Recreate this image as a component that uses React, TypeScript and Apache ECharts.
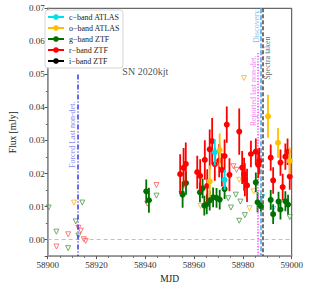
import React, { useEffect, useRef } from "react";
import * as echarts from "echarts";

// ---- data: [MJD, flux (mJy), error] ----
const cBandDet = [
  [58968.5, 0.0264, 0.004],
  [58972.5, 0.0181, 0.003],
];
const oBandDet = [
  [58966.4, 0.0176, 0.0048],
  [58970.5, 0.0271, 0.005],
  [58990.3, 0.0373, 0.0065],
  [58994.4, 0.0293, 0.0045],
  [58999.2, 0.0238, 0.004],
];
const gBandDet = [
  [58940.4, 0.0146, 0.0036],
  [58941.5, 0.0119, 0.0038],
  [58955.3, 0.0136, 0.004],
  [58956.7, 0.0171, 0.0035],
  [58962.4, 0.0143, 0.003],
  [58963.5, 0.0155, 0.003],
  [58964.2, 0.0103, 0.003],
  [58965.2, 0.0107, 0.003],
  [58966.4, 0.0118, 0.003],
  [58967.8, 0.0128, 0.003],
  [58969.2, 0.0126, 0.003],
  [58970.5, 0.0121, 0.003],
  [58972.5, 0.0153, 0.003],
  [58985.3, 0.0173, 0.003],
  [58986.0, 0.0113, 0.003],
  [58987.4, 0.0101, 0.003],
  [58991.4, 0.012, 0.003],
  [58992.4, 0.0077, 0.003],
  [58994.6, 0.0115, 0.003],
  [58995.4, 0.0091, 0.003],
  [58997.4, 0.0116, 0.003],
  [58998.5, 0.0106, 0.003],
];
const rBandDet = [
  [58954.3, 0.0198, 0.006],
  [58955.7, 0.0217, 0.006],
  [58956.6, 0.0229, 0.0065],
  [58961.3, 0.0204, 0.005],
  [58962.5, 0.0193, 0.005],
  [58964.4, 0.0241, 0.006],
  [58965.4, 0.0163, 0.005],
  [58966.4, 0.0273, 0.006],
  [58967.4, 0.0298, 0.007],
  [58968.5, 0.0228, 0.005],
  [58970.3, 0.0239, 0.005],
  [58971.4, 0.0211, 0.005],
  [58972.5, 0.0253, 0.005],
  [58973.4, 0.0348, 0.0055],
  [58974.5, 0.0196, 0.005],
  [58978.5, 0.0327, 0.007],
  [58979.7, 0.0218, 0.005],
  [58980.5, 0.0198, 0.005],
  [58980.8, 0.0181, 0.005],
  [58981.7, 0.0164, 0.005],
  [58983.3, 0.0259, 0.004],
  [58985.3, 0.0266, 0.004],
  [58986.3, 0.0226, 0.004],
  [58986.7, 0.0238, 0.004],
  [58991.4, 0.0248, 0.004],
  [58992.4, 0.0179, 0.004],
  [58995.4, 0.0233, 0.004],
  [58996.3, 0.0159, 0.004],
  [58997.4, 0.0251, 0.004],
  [58998.3, 0.0266, 0.004],
  [58999.2, 0.0191, 0.004],
];

// ---- upper limits: [MJD, flux] ----
const cBandLim = [
  [58988.0, 0.0129],
  [58992.4, 0.0093],
];
const oBandLim = [
  [58910.8, 0.0112],
  [58962.7, 0.0102],
  [58978.5, 0.0181],
  [58982.7, 0.0095],
  [58984.4, 0.0146],
  [58980.4, 0.0489],
];
const gBandLim = [
  [58900.4, 0.0097],
  [58903.6, 0.0024],
  [58908.4, -0.0026],
  [58911.5, 0.0055],
  [58912.6, 0.0012],
  [58914.2, 0.0112],
  [58944.6, 0.0133],
  [58974.0, 0.0125],
  [58975.1, 0.0097],
  [58977.1, 0.0136],
  [58979.0, 0.0115],
  [58978.5, 0.0057],
  [58980.8, 0.0074],
  [58999.2, 0.0068],
];
const rBandLim = [
  [58903.6, -0.0021],
  [58908.4, 0.0016],
  [58912.6, 0.0036],
  [58913.6, 0.0027],
  [58914.8, 0.0001],
  [58915.6, -0.0004],
  [58940.8, 0.0109],
  [58944.6, 0.0165],
  [58976.1, 0.0222],
  [58977.4, 0.0211],
];
const iBandLim = [[58954.9, 0.0138]];

// ---- vertical event lines ----
const forcedLastNonDet = 58912.4;
const reportedLastNonDet = 58986.1;
const discovery = 58987.2;
const spectraTaken = 58988.2;

const legendNames = ["c−band ATLAS", "o−band ATLAS", "g−band ZTF", "r−band ZTF", "i−band ZTF"];
const xTicks = [58900, 58920, 58940, 58960, 58980, 59000];

const SERIF = "'Liberation Serif', 'DejaVu Serif', serif";

const COL = {
  c: "#00e0e8",
  o: "#ffbf00",
  g: "#007000",
  r: "#ff0000",
  i: "#000000",
};
const LIMCOL = {
  c: "#40c8d8",
  o: "#ffb020",
  g: "#4a9a4a",
  r: "#ff5a5a",
  i: "#303030",
};

function errSeries(data: number[][], color: string, z: number) {
  return {
    type: "custom",
    silent: true,
    clip: true,
    z,
    encode: { x: 0, y: 1 },
    data,
    renderItem: (params: any, api: any) => {
      const x = api.value(0);
      const y = api.value(1);
      const e = api.value(2);
      const a = api.coord([x, y - e]);
      const b = api.coord([x, y + e]);
      return {
        type: "line",
        shape: { x1: a[0], y1: a[1], x2: b[0], y2: b[1] },
        style: { stroke: color, lineWidth: 1.8 },
      };
    },
  };
}

function detSeries(data: number[][], color: string, z: number) {
  return {
    type: "scatter",
    silent: true,
    z,
    data: data.map((d) => [d[0], d[1]]),
    symbol: "circle",
    symbolSize: 6,
    itemStyle: { color, opacity: 1 },
  };
}

function limSeries(data: number[][], color: string, z: number) {
  return {
    type: "scatter",
    silent: true,
    z,
    data,
    symbol: "triangle",
    symbolRotate: 180,
    symbolSize: 5,
    itemStyle: { color: "rgba(255,255,255,0)", borderColor: color, borderWidth: 1 },
  };
}

export default function App() {
  const ref = useRef<HTMLDivElement>(null);
  useEffect(() => {
    if (!ref.current) return;
    const chart = echarts.init(ref.current, undefined, { renderer: "svg" });
    const annotations = [
      { name: "Forced Last non-det.", value: [58910.0, 0.0317], color: "#6464f0", rotate: 90, size: 8 },
      { name: "Reported last non-det.", value: [58984.4, 0.045], color: "#f060f0", rotate: 90, size: 8 },
      { name: "Discovery", value: [58985.4, 0.0645], color: "#55a8ee", rotate: 90, size: 8 },
      { name: "Spectra taken", value: [58990.1, 0.0549], color: "#404040", rotate: 90, size: 8 },
      { name: "SN 2020kjt", value: [58940.0, 0.0509], color: "#222", rotate: 0, size: 10 },
    ];
    const legendSeries = legendNames.map((n, i) => ({
      type: "line",
      name: n,
      data: [],
      symbol: "circle",
      symbolSize: 6,
      color: [COL.c, COL.o, COL.g, COL.r, COL.i][i],
      lineStyle: { width: 2 },
    }));
    const option: any = {
      animation: false,
      grid: {
        left: 41.7,
        right: 17.3,
        top: 8.3,
        bottom: 32.3,
        show: true,
        borderColor: "#444",
        borderWidth: 1,
        backgroundColor: "transparent",
      },
      legend: {
        data: legendNames,
        orient: "vertical",
        left: 45,
        top: 10,
        itemGap: 3,
        itemWidth: 16,
        itemHeight: 7,
        padding: [3, 3, 3, 2],
        backgroundColor: "#fff",
        borderColor: "#cccccc",
        borderWidth: 0.8,
        borderRadius: 3,
        selectedMode: false,
        textStyle: { fontFamily: SERIF, fontSize: 8, color: "#222", lineHeight: 7 },
      },
      xAxis: {
        type: "value",
        min: 58900,
        max: 59000,
        interval: 20,
        name: "MJD",
        nameLocation: "middle",
        nameGap: 17,
        nameTextStyle: { fontFamily: SERIF, fontSize: 9.5, color: "#222" },
        axisLine: { show: true, onZero: false, lineStyle: { color: "#999", width: 1.6 } },
        axisTick: { show: true, length: 3, lineStyle: { color: "#555" } },
        minorTick: { show: true, splitNumber: 4, length: 1.8, lineStyle: { color: "#666" } },
        axisLabel: {
          fontFamily: SERIF,
          fontSize: 9,
          color: "#333",
          margin: 4,
          formatter: (v: number) => (xTicks.includes(Math.round(v)) ? String(Math.round(v)) : ""),
        },
        splitLine: { show: false },
      },
      yAxis: {
        type: "value",
        min: -0.005,
        max: 0.07,
        splitNumber: 8,
        name: "Flux [mJy]",
        nameLocation: "middle",
        nameGap: 29,
        nameTextStyle: { fontFamily: SERIF, fontSize: 9.5, color: "#222" },
        axisLine: { show: true, onZero: false, lineStyle: { color: "#999", width: 1.6 } },
        axisTick: { show: true, length: 3, lineStyle: { color: "#555" } },
        minorTick: { show: true, splitNumber: 2, length: 1.8, lineStyle: { color: "#666" } },
        axisLabel: {
          fontFamily: SERIF,
          fontSize: 9,
          color: "#333",
          margin: 3,
          showMinLabel: false,
          formatter: (v: number) => {
            const k = v / 0.01;
            if (Math.abs(k - Math.round(k)) > 1e-6) return "";
            return (Math.round(k) * 0.01).toFixed(2);
          },
        },
        splitLine: { show: false },
      },
      series: [
        ...legendSeries,
        {
          type: "line",
          data: [],
          silent: true,
          z: 1,
          markLine: {
            silent: true,
            symbol: "none",
            label: { show: false },
            animation: false,
            data: [
              [
                { coord: [58900, 0], lineStyle: { color: "#c0c0c0", width: 1, type: [4, 3] } },
                { coord: [59000, 0] },
              ],
              [
                { coord: [forcedLastNonDet, 0.05], lineStyle: { color: "#3838e8", width: 1.5, type: [5, 2, 1, 2] } },
                { coord: [forcedLastNonDet, -0.005] },
              ],
              [
                { coord: [reportedLastNonDet, 0.0565], lineStyle: { color: "#ff40ff", width: 1.5, type: [1.3, 1.5] } },
                { coord: [reportedLastNonDet, -0.005] },
              ],
              [
                { coord: [discovery, 0.07], lineStyle: { color: "#66b0f0", width: 1.8, type: [5, 2] } },
                { coord: [discovery, -0.005] },
              ],
              [
                { coord: [spectraTaken, 0.07], lineStyle: { color: "#505050", width: 1.6, type: [4, 2] } },
                { coord: [spectraTaken, -0.005] },
              ],
            ],
          },
        },
        limSeries(gBandLim, LIMCOL.g, 3),
        limSeries(rBandLim, LIMCOL.r, 3),
        limSeries(oBandLim, LIMCOL.o, 3),
        limSeries(cBandLim, LIMCOL.c, 3),
        limSeries(iBandLim, LIMCOL.i, 3),
        errSeries(gBandDet, COL.g, 4),
        detSeries(gBandDet, COL.g, 5),
        errSeries(rBandDet, COL.r, 6),
        detSeries(rBandDet, COL.r, 7),
        errSeries(oBandDet, COL.o, 8),
        detSeries(oBandDet, COL.o, 9),
        errSeries(cBandDet, COL.c, 8),
        detSeries(cBandDet, COL.c, 9),
        {
          type: "scatter",
          silent: true,
          z: 10,
          symbolSize: 0,
          data: annotations.map((a) => ({
            name: a.name,
            value: a.value,
            label: {
              show: true,
              position: "inside",
              formatter: a.name,
              rotate: a.rotate,
              color: a.color,
              fontSize: a.size,
              fontFamily: SERIF,
              align: "center",
              verticalAlign: "middle",
            },
          })),
        },
      ],
    };
    chart.setOption(option);
    return () => chart.dispose();
  }, []);
  return (
    <div
      ref={ref}
      style={{ position: "fixed", left: 0, top: 0, width: 309, height: 289, background: "#fff" }}
    />
  );
}
